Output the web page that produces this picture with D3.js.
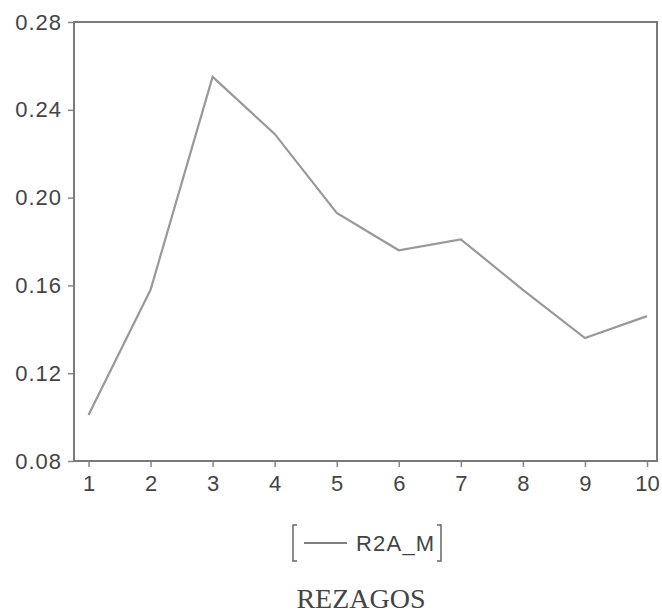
<!DOCTYPE html>
<html>
<head>
<meta charset="utf-8">
<script src="https://cdn.jsdelivr.net/npm/d3@7"></script>
<style>
  body { margin: 0; background: #fff; }
  svg { display: block; }
</style>
</head>
<body>
<div id="chart-area"></div>
<script>
// Data
var lags = [1, 2, 3, 4, 5, 6, 7, 8, 9, 10];
var r2aM = [0.101, 0.158, 0.255, 0.229, 0.193, 0.176, 0.181, 0.158, 0.136, 0.146];
var yTicks = [0.08, 0.12, 0.16, 0.20, 0.24, 0.28];

var width = 662;
var height = 616;
var plot = { left: 74, right: 657, top: 22, bottom: 461 };

var svg = d3.select("#chart-area")
    .append("svg")
    .attr("width", width)
    .attr("height", height);

// SCALES
var x = d3.scaleLinear().domain([1, 10]).range([88.5, 647]);
var y = d3.scaleLinear().domain([0.08, 0.28]).range([plot.bottom, plot.top]);

// AXES
var yAxis = d3.axisLeft(y).tickValues(yTicks).tickSize(6).tickPadding(6)
    .tickFormat(d3.format(".2f"));
var xAxis = d3.axisBottom(x).tickValues(lags).tickSize(6).tickPadding(8)
    .tickFormat(d3.format("d"));

var yg = svg.append("g")
    .attr("transform", "translate(" + plot.left + ",0)")
    .call(yAxis);
yg.select(".domain").remove();
yg.selectAll("line").attr("stroke", "#888").attr("stroke-width", 1.5);
yg.selectAll("text")
    .attr("font-family", "Liberation Sans, Arial, sans-serif")
    .attr("font-size", "22px")
    .attr("letter-spacing", "1px")
    .attr("fill", "#444");

var xg = svg.append("g")
    .attr("transform", "translate(0," + plot.bottom + ")")
    .call(xAxis);
xg.select(".domain").remove();
xg.selectAll("line").attr("stroke", "#888").attr("stroke-width", 1.5);
xg.selectAll("text")
    .attr("font-family", "Liberation Sans, Arial, sans-serif")
    .attr("font-size", "22px")
    .attr("fill", "#444");

// frame
svg.append("rect")
    .attr("x", plot.left)
    .attr("y", plot.top)
    .attr("width", plot.right - plot.left)
    .attr("height", plot.bottom - plot.top)
    .attr("fill", "none")
    .attr("stroke", "#7a7a7a")
    .attr("stroke-width", 2);

// line
var line = d3.line()
    .x((d, i) => x(lags[i]))
    .y((d) => y(d));

svg.append("path")
    .datum(r2aM)
    .attr("d", line)
    .attr("fill", "none")
    .attr("stroke", "#999")
    .attr("stroke-width", 2.2);

// LEGEND
var lg = svg.append("g");
lg.append("path")
    .attr("d", "M297,525 H293 V561 H297 M437,525 H441 V561 H437")
    .attr("fill", "none")
    .attr("stroke", "#666")
    .attr("stroke-width", 1.5);
lg.append("line")
    .attr("x1", 304).attr("x2", 347)
    .attr("y1", 543).attr("y2", 543)
    .attr("stroke", "#555")
    .attr("stroke-width", 1.5);
lg.append("text")
    .attr("x", 356)
    .attr("y", 551)
    .attr("font-family", "Liberation Sans, Arial, sans-serif")
    .attr("font-size", "22px")
    .attr("letter-spacing", "1.2px")
    .attr("fill", "#444")
    .text("R2A_M");

// x title
svg.append("text")
    .attr("x", 361)
    .attr("y", 608)
    .attr("text-anchor", "middle")
    .attr("font-family", "Liberation Serif, Times New Roman, serif")
    .attr("font-size", "28px")
    .attr("fill", "#444")
    .text("REZAGOS");
</script>
</body>
</html>
